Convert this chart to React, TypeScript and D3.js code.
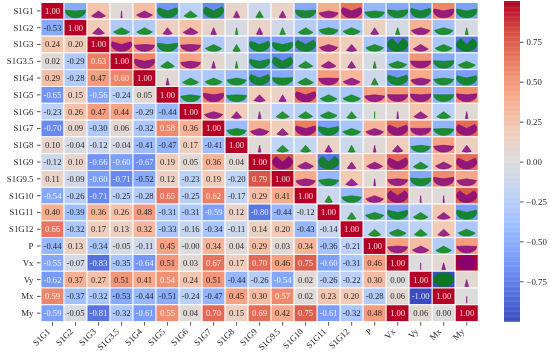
import React from "react";
import * as d3 from "d3";

const labels = ["S1G1","S1G2","S1G3","S1G3.5","S1G4","S1G5","S1G6","S1G7","S1G8","S1G9","S1G9.5","S1G10","S1G11","S1G12","P","Vx","Vy","Mx","My"];

const lowerRows: number[][] = [
  [1],
  [-0.53,1],
  [0.24,0.20,1],
  [0.02,-0.29,0.63,1],
  [0.29,-0.28,0.47,0.60,1],
  [-0.65,0.15,-0.56,-0.24,0.05,1],
  [-0.23,0.26,0.47,0.44,-0.29,-0.44,1],
  [-0.70,0.09,-0.30,0.06,-0.32,0.58,0.36,1],
  [0.10,-0.04,-0.12,-0.04,-0.41,-0.47,0.17,-0.41,1],
  [-0.12,0.10,-0.66,-0.60,-0.67,0.19,0.05,0.36,0.04,1],
  [0.11,-0.09,-0.60,-0.71,-0.52,0.12,-0.23,0.19,-0.20,0.79,1],
  [-0.54,-0.26,-0.71,-0.25,-0.28,0.65,-0.25,0.62,-0.17,0.29,0.41,1],
  [0.40,-0.39,0.36,0.26,0.48,-0.31,-0.31,-0.59,0.12,-0.80,-0.44,-0.12,1],
  [0.66,-0.32,0.17,0.13,0.32,-0.33,-0.16,-0.34,-0.11,0.14,0.20,-0.43,-0.14,1],
  [-0.44,0.13,-0.34,-0.05,-0.11,0.45,-0.001,0.34,0.04,0.29,0.03,0.34,-0.36,-0.21,1],
  [-0.55,-0.07,-0.83,-0.35,-0.64,0.51,0.03,0.67,0.17,0.70,0.46,0.75,-0.60,-0.31,0.46,1],
  [-0.62,0.37,0.27,0.51,0.41,0.54,0.24,0.51,-0.44,-0.26,-0.54,0.02,-0.26,-0.22,0.30,0.00,1],
  [0.59,-0.37,-0.32,-0.53,-0.44,-0.51,-0.24,-0.47,0.45,0.30,0.57,0.02,0.23,0.20,-0.28,0.06,-1,1],
  [-0.59,-0.05,-0.81,-0.32,-0.61,0.55,0.04,0.70,0.15,0.69,0.42,0.75,-0.61,-0.32,0.48,1,0.06,0.00,1],
];

const colorTicks = [-0.75,-0.5,-0.25,0,0.25,0.5,0.75];
const coolwarm = ["#3b4cc0","#5977e3","#7b9ff9","#9ebeff","#c0d4f5","#dddcdc","#f2cbb7","#f7ac8e","#ee8468","#d65244","#b40426"];

const FONT = "'Liberation Serif','Times New Roman',serif";
const left = 41, right = 478.2, top = 2.5, bottom = 321.6;
const barL = 504, barR = 520;

const color = d3.scaleLinear<string>()
  .domain(d3.range(11).map((i) => -1 + i * 0.2))
  .range(coolwarm)
  .interpolate(d3.interpolateRgb);

const x = d3.scaleBand<string>().domain(labels).range([left, right]);
const y = d3.scaleBand<string>().domain(labels).range([top, bottom]);
const barY = d3.scaleLinear().domain([-1, 1]).range([bottom, top]);

const val = (i: number, j: number) => (i >= j ? lowerRows[i][j] : lowerRows[j][i]);

function isDark(c: string) {
  const { r, g, b } = d3.rgb(c);
  const f = (v: number) => {
    const s = v / 255;
    return s <= 0.03928 ? s / 12.92 : Math.pow((s + 0.055) / 1.055, 2.4);
  };
  return 0.2126 * f(r) + 0.7152 * f(g) + 0.0722 * f(b) <= 0.408;
}

const unitArc = d3.arc();
function wedge(v: number) {
  const a = Math.abs(v) * Math.PI;
  return unitArc({ innerRadius: 0, outerRadius: 1, startAngle: Math.PI - a, endAngle: Math.PI + a }) as string;
}

const barSteps = d3.range(256).map((i) => -1 + (2 * i) / 255);

export default function App() {
  const w = x.bandwidth();
  const h = y.bandwidth();
  const rx = w * 0.44;
  const ry = h * 0.41;
  return (
    <svg width={550} height={354} viewBox="0 0 550 354" style={{ position: "absolute", left: 0, top: 0, background: "#fff" }} fontFamily={FONT}>
      <defs>
        <filter id="soft" x="0" y="0" width="100%" height="100%">
          <feGaussianBlur stdDeviation="0.35" />
        </filter>
      </defs>
      <g filter="url(#soft)">
        {labels.map((rowName, i) =>
          labels.map((colName, j) => {
            const v = val(i, j);
            const c = color(v);
            const px = x(colName)!;
            const py = y(rowName)!;
            const cx = px + w / 2;
            const cy = py + h / 2;
            const dark = isDark(c);
            return (
              <g key={rowName + colName}>
                <rect x={px} y={py} width={w} height={h} fill={c} stroke="#fff" strokeWidth={0.9} />
                {i >= j ? (
                  <text x={cx} y={cy} textAnchor="middle" dominantBaseline="central" fontSize={8.6} fill={dark ? "#ffffff" : "#262626"} fillOpacity={dark ? 0.85 : 1}>
                    {v.toFixed(2)}
                  </text>
                ) : (
                  <path
                    d={wedge(v)}
                    transform={`translate(${cx},${cy}) scale(${rx},${ry})`}
                    fill={v >= 0 ? "#800080" : "#008000"}
                    fillOpacity={0.8}
                    stroke={v >= 0 ? "#800080" : "#008000"}
                    strokeOpacity={0.8}
                    strokeWidth={0.7}
                    vectorEffect="non-scaling-stroke"
                  />
                )}
              </g>
            );
          })
        )}
        {labels.map((name) => {
          const ty = y(name)! + h / 2;
          return (
            <g key={"y" + name}>
              <line x1={left - 4} x2={left - 0.5} y1={ty} y2={ty} stroke="#262626" strokeWidth={0.8} />
              <text x={left - 7.5} y={ty} textAnchor="end" dominantBaseline="central" fontSize={8.8} fill="#262626">{name}</text>
            </g>
          );
        })}
        {labels.map((name) => {
          const tx = x(name)! + w / 2;
          return (
            <g key={"x" + name}>
              <line x1={tx} x2={tx} y1={bottom + 0.5} y2={bottom + 4} stroke="#262626" strokeWidth={0.8} />
              <text transform={`translate(${tx - 4},${bottom + 8.3}) rotate(-45)`} textAnchor="end" dominantBaseline="central" fontSize={8.8} fill="#262626">{name}</text>
            </g>
          );
        })}
        {barSteps.map((v) => (
          <rect key={v} x={barL} width={barR - barL} y={barY(v) - (bottom - top) / 255 - 0.2} height={(bottom - top) / 255 + 0.4} fill={color(v)} />
        ))}
        {colorTicks.map((t) => (
          <g key={t}>
            <line x1={barR} x2={barR + 3.5} y1={barY(t)} y2={barY(t)} stroke="#262626" strokeWidth={0.8} />
            <text x={barR + 6.5} y={barY(t)} dominantBaseline="central" fontSize={8.8} fill="#262626">{t.toFixed(2).replace("-", "\u2212")}</text>
          </g>
        ))}
      </g>
    </svg>
  );
}
